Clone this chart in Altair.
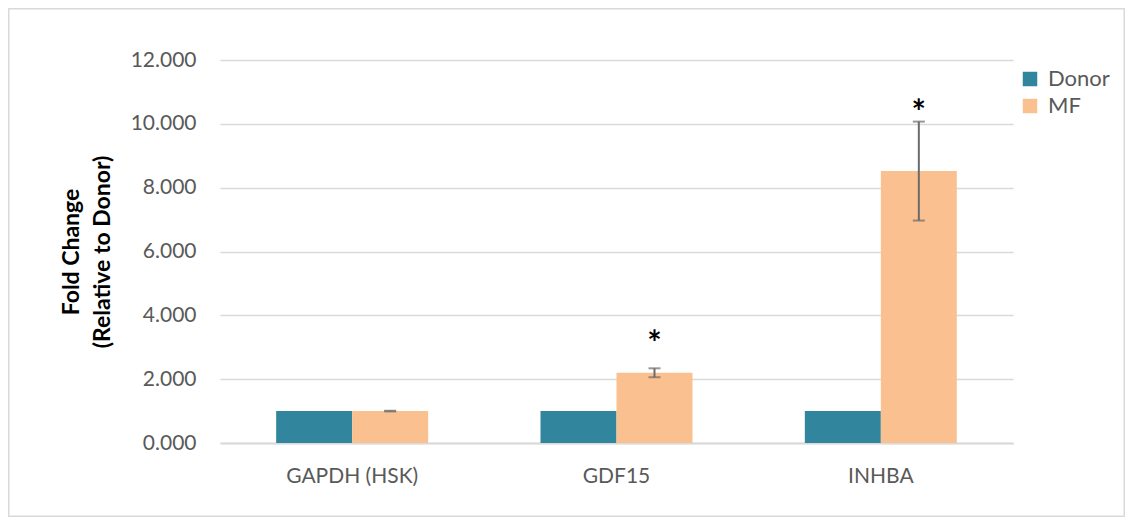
import altair as alt
import pandas as pd

genes = ["GAPDH (HSK)", "GDF15", "INHBA"]
groups = ["Donor", "MF"]
donor = [1.0, 1.0, 1.0]
mf = [1.0, 2.20, 8.52]
mf_err = [0.01, 0.14, 1.55]
stars = ["", "*", "*"]
star_y = [1.2, 3.35, 10.6]
colors = ["#31859C", "#FAC090"]

rows = []
for g, d, m in zip(genes, donor, mf):
    rows.append({"gene": g, "group": "Donor", "value": d})
    rows.append({"gene": g, "group": "MF", "value": m})
bars_df = pd.DataFrame(rows)

err_df = pd.DataFrame({
    "gene": genes,
    "group": ["MF"] * 3,
    "lo": [m - e for m, e in zip(mf, mf_err)],
    "hi": [m + e for m, e in zip(mf, mf_err)],
    "star": stars,
    "star_y": star_y,
})

FONT = "Lato"
PW, PH = 793, 383
PAD = {"left": 212, "top": 52, "right": 112, "bottom": 74}

x_enc = alt.X("gene:N", sort=genes,
              scale=alt.Scale(paddingInner=0.425, paddingOuter=0.2125),
              axis=alt.Axis(title=None, labelAngle=0, labelFontSize=21, labelColor="#595959",
                            labelFont=FONT, labelPadding=22, ticks=False,
                            domainColor="#d9d9d9", domainWidth=2))
xo_enc = alt.XOffset("group:N", sort=groups,
                     scale=alt.Scale(domain=groups, paddingInner=0, paddingOuter=0))

y_scale = alt.Scale(domain=[0, 12], nice=False)

bars = alt.Chart(bars_df).mark_bar().encode(
    x=x_enc,
    xOffset=xo_enc,
    y=alt.Y("value:Q", scale=y_scale,
            axis=alt.Axis(title=["Fold Change", "(Relative to Donor)"], values=[0, 2, 4, 6, 8, 10, 12],
                          format=".3f", labelFontSize=21, labelColor="#595959", labelFont=FONT,
                          labelPadding=24, ticks=False, domain=False,
                          gridColor="#d9d9d9", gridWidth=1.3,
                          titleFont=FONT, titleFontSize=23, titleFontWeight="bold",
                          titleColor="#000000", titlePadding=16, titleLineHeight=31)),
    color=alt.Color("group:N", scale=alt.Scale(domain=groups, range=colors),
                    legend=alt.Legend(title=None, orient="none", legendX=799, legendY=8,
                                      symbolType="square", symbolSize=210, symbolStrokeWidth=0,
                                      labelFontSize=22, labelColor="#595959", labelFont=FONT,
                                      labelOffset=7, rowPadding=5, padding=0)),
)

rules = alt.Chart(err_df).mark_rule(color="#6b6b6b", strokeWidth=2).encode(
    x=alt.X("gene:N", sort=genes), xOffset=xo_enc, y=alt.Y("lo:Q", scale=y_scale), y2="hi:Q")

caps_hi = alt.Chart(err_df).mark_tick(color="#6b6b6b", thickness=2, size=12).encode(
    x=alt.X("gene:N", sort=genes), xOffset=xo_enc, y=alt.Y("hi:Q", scale=y_scale))
caps_lo = alt.Chart(err_df).mark_tick(color="#6b6b6b", thickness=2, size=12).encode(
    x=alt.X("gene:N", sort=genes), xOffset=xo_enc, y=alt.Y("lo:Q", scale=y_scale))

star_txt = alt.Chart(err_df).mark_text(font=FONT, fontSize=34, fontWeight="bold", color="#000000",
                                       baseline="middle", dy=9).encode(
    x=alt.X("gene:N", sort=genes), xOffset=xo_enc, y=alt.Y("star_y:Q", scale=y_scale), text="star:N")

border = alt.Chart(pd.DataFrame({"k": [0]})).mark_rect(fill=None, stroke="#d9d9d9", strokeWidth=1.5).encode(
    x=alt.value(-PAD["left"] + 0.75), x2=alt.value(PW + PAD["right"] - 0.75),
    y=alt.value(-PAD["top"] + 0.75), y2=alt.value(PH + PAD["bottom"] - 0.75))

chart = alt.layer(bars, rules, caps_hi, caps_lo, star_txt, border).properties(
    width=PW, height=PH,
    autosize=alt.AutoSizeParams(type="none"),
    padding=PAD,
    background="white",
).configure_view(stroke=None)

chart.save("out.html", embed_options={"renderer": "svg", "actions": False})
